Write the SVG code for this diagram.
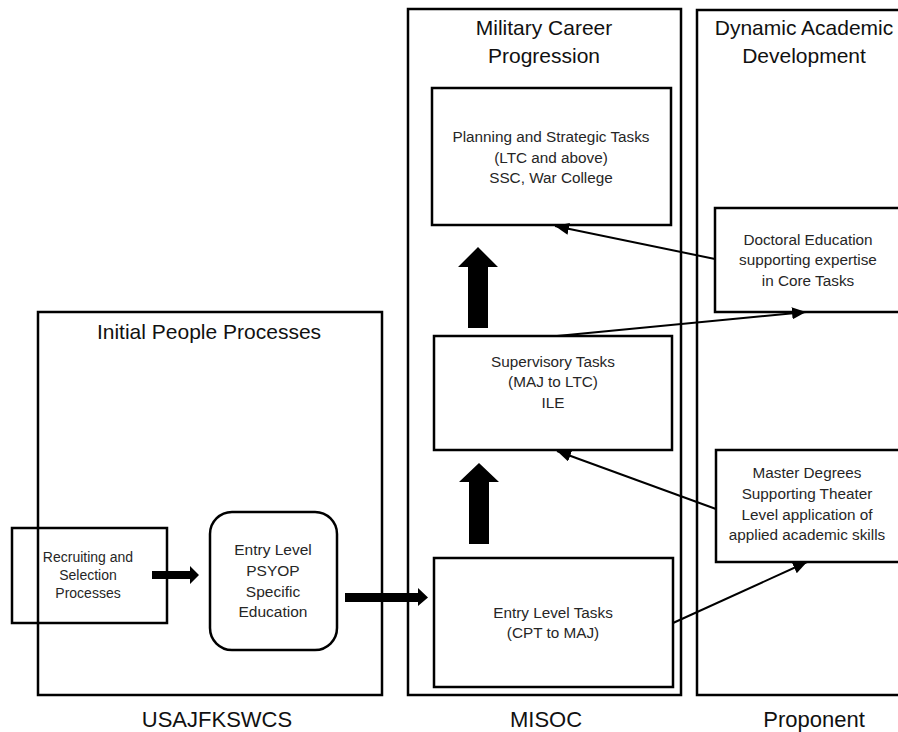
<svg xmlns="http://www.w3.org/2000/svg" width="898" height="732" viewBox="0 0 898 732">
<style>
.box{fill:#fff;stroke:#000;stroke-width:2.5}
.cont{fill:none;stroke:#000;stroke-width:2.5}
.t{font-family:"Liberation Sans",Arial,sans-serif;fill:#262626;text-anchor:middle}
.r{font-size:14px}
.s{font-size:15.3px}
.m{font-size:15.5px}
.h{font-size:21px;fill:#111}
.f{font-size:22px;fill:#111}
.ln{stroke:#000;stroke-width:2;fill:none;marker-end:url(#ah)}
.blk{fill:#000}
</style>
<defs>
<marker id="ah" markerUnits="userSpaceOnUse" markerWidth="16" markerHeight="12" refX="14" refY="6" orient="auto">
<path d="M0,0 L14,6 L0,12 Z" fill="#000"/>
</marker>
</defs>
<rect width="898" height="732" fill="#fff"/>

<g id="usajfkswcs">
<rect class="cont" x="38" y="312" width="344" height="383"/>
<text class="t h" x="209" y="339">Initial People Processes</text>
<text class="t f" x="217" y="727">USAJFKSWCS</text>
</g>

<g id="misoc">
<rect class="cont" x="408" y="9" width="273" height="686"/>
<text class="t h" x="544" y="35">Military Career</text>
<text class="t h" x="544" y="63">Progression</text>
<text class="t f" x="546" y="727">MISOC</text>
</g>

<g id="proponent">
<rect class="cont" x="697" y="10" width="220" height="685"/>
<text class="t h" x="804" y="35">Dynamic Academic</text>
<text class="t h" x="804" y="63">Development</text>
<text class="t f" x="814" y="727">Proponent</text>
</g>

<g id="recruiting">
<rect class="box" x="12" y="528" width="155" height="95" fill-opacity="0"/>
<text class="t r" x="88" y="562">Recruiting and</text>
<text class="t r" x="88" y="580">Selection</text>
<text class="t r" x="88" y="598">Processes</text>
</g>

<g id="psyop">
<rect class="box" x="210" y="512" width="127" height="138" rx="22"/>
<text class="t m" x="273" y="555">Entry Level</text>
<text class="t m" x="273" y="576">PSYOP</text>
<text class="t m" x="273" y="597">Specific</text>
<text class="t m" x="273" y="617">Education</text>
</g>

<g id="planning">
<rect class="box" x="432" y="88" width="239" height="137"/>
<text class="t s" x="551" y="142">Planning and Strategic Tasks</text>
<text class="t s" x="551" y="163">(LTC and above)</text>
<text class="t s" x="551" y="183">SSC, War College</text>
</g>

<g id="supervisory">
<rect class="box" x="434" y="336" width="238" height="114"/>
<text class="t s" x="553" y="367">Supervisory Tasks</text>
<text class="t s" x="553" y="387">(MAJ to LTC)</text>
<text class="t s" x="553" y="408">ILE</text>
</g>

<g id="entry">
<rect class="box" x="434" y="558" width="239" height="129"/>
<text class="t s" x="553" y="618">Entry Level Tasks</text>
<text class="t s" x="553" y="638">(CPT to MAJ)</text>
</g>

<g id="doctoral">
<rect class="box" x="715" y="208" width="200" height="104"/>
<text class="t s" x="808" y="245">Doctoral Education</text>
<text class="t s" x="808" y="265">supporting expertise</text>
<text class="t s" x="808" y="286">in Core Tasks</text>
</g>

<g id="master">
<rect class="box" x="716" y="450" width="200" height="112"/>
<text class="t s" x="807" y="478">Master Degrees</text>
<text class="t s" x="807" y="499">Supporting Theater</text>
<text class="t s" x="807" y="520">Level application of</text>
<text class="t s" x="807" y="540">applied academic skills</text>
</g>

<g id="connectors">
<polygon class="blk" points="152,571 190,571 190,566 199,575 190,584 190,579 152,579"/>
<polygon class="blk" points="345,593 418,593 418,588 428,597.5 418,606 418,602 345,602"/>
<polygon class="blk" points="468,328 468,267 458,267 478,247 498,267 488,267 488,328"/>
<polygon class="blk" points="469,544 469,482 459,482 479,463 499,482 489,482 489,544"/>
<line class="ln" x1="715" y1="259" x2="555" y2="226"/>
<line class="ln" x1="557" y1="336" x2="806" y2="312"/>
<line class="ln" x1="716" y1="509" x2="557" y2="451"/>
<line class="ln" x1="673" y1="623" x2="807" y2="562"/>
</g>
</svg>
